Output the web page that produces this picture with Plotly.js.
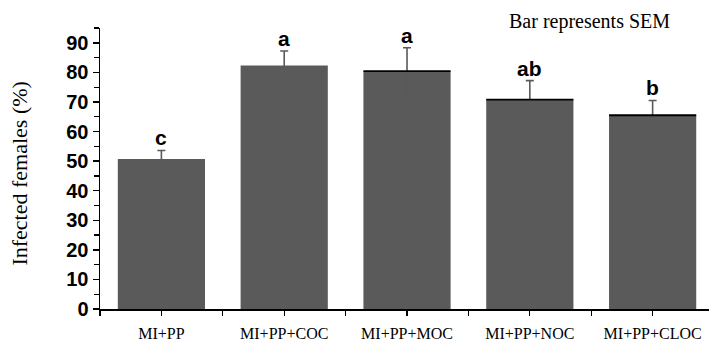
<!DOCTYPE html>
<html>
<head>
<meta charset="utf-8">
<script src="https://cdn.plot.ly/plotly-3.0.1.min.js"></script>
<style>html,body{margin:0;padding:0;background:#fff;}#chart{width:709px;height:344px;}</style>
</head>
<body>
<div id="chart"></div>
<script>
var categories = ["MI+PP", "MI+PP+COC", "MI+PP+MOC", "MI+PP+NOC", "MI+PP+CLOC"];
var infected = [50.7, 82.3, 80.4, 70.8, 65.5];
var sem = [2.9, 4.9, 7.9, 6.4, 5.0];
var letters = ["c", "a", "a", "ab", "b"];
var yTicks = [0, 10, 20, 30, 40, 50, 60, 70, 80, 90];

var xs = categories.map(function (c, i) { return i; });

var trace = {
  type: "bar",
  x: xs,
  y: infected,
  width: 0.71,
  marker: { color: "#5a5a5a", line: { width: 0 } },
  error_y: { type: "data", array: sem, symmetric: true,
             visible: true, color: "#5a5a5a", thickness: 1.6, width: 4 },
  hoverinfo: "skip"
};

var annotations = letters.map(function (t, i) {
  return {
    x: xs[i], y: infected[i] + sem[i], xref: "x", yref: "y",
    text: "<b>" + t + "</b>", showarrow: false, yanchor: "bottom", xanchor: "center",
    yshift: -1,
    font: { family: "Liberation Sans, Arial, sans-serif", size: 21, color: "#000" }
  };
});
annotations.push({
  x: 0.803, y: 1.028, xref: "paper", yref: "paper", xanchor: "center", yanchor: "middle",
  yshift: -1,
  text: "Bar represents SEM", showarrow: false,
  font: { family: "Liberation Serif, Times New Roman, serif", size: 20, color: "#000" }
});
annotations.push({
  x: 0, y: 0.482, xref: "paper", yref: "paper", xanchor: "center", yanchor: "middle",
  xshift: -80, textangle: -90,
  text: "Infected females (%)", showarrow: false,
  font: { family: "Liberation Serif, Times New Roman, serif", size: 22, color: "#000" }
});

var shapes = [2, 3, 4].map(function (i) {
  return {
    type: "line", xref: "x", yref: "y",
    x0: xs[i] - 0.355, x1: xs[i] + 0.355, y0: infected[i], y1: infected[i],
    line: { color: "#000", width: 1.8 }
  };
});

var layout = {
  width: 709, height: 344,
  margin: { l: 100, r: 0, t: 28, b: 35, pad: 0 },
  paper_bgcolor: "#fff", plot_bgcolor: "#fff",
  showlegend: false,
  xaxis: {
    range: [-0.5, 4.459],
    tickmode: "array", tickvals: xs, ticktext: categories,
    ticks: "outside", ticklen: 5, tickwidth: 1.3, tickcolor: "#000",
    minor: { tickmode: "linear", tick0: 0.5, dtick: 1, ticks: "outside", ticklen: 5, tickwidth: 1.3, tickcolor: "#000" },
    showline: true, linecolor: "#000", linewidth: 1.5,
    showgrid: false, zeroline: false,
    ticklabelstandoff: 4,
    tickfont: { family: "Liberation Serif, Times New Roman, serif", size: 16, color: "#000" }
  },
  yaxis: {
    range: [0, 95],
    tickmode: "array", tickvals: yTicks, ticktext: yTicks.map(String),
    ticks: "outside", ticklen: 6, tickwidth: 1.5, tickcolor: "#000",
    minor: { tickmode: "linear", tick0: 5, dtick: 10, ticks: "outside", ticklen: 5, tickwidth: 1.3, tickcolor: "#000" },
    showline: true, linecolor: "#000", linewidth: 1.5,
    showgrid: false, zeroline: false,
    tickfont: { family: "Liberation Sans, Arial, sans-serif", size: 20, color: "#000", weight: "bold" }
  },
  annotations: annotations,
  shapes: shapes
};

Plotly.newPlot("chart", [trace], layout, { staticPlot: true, displayModeBar: false });
</script>
</body>
</html>
